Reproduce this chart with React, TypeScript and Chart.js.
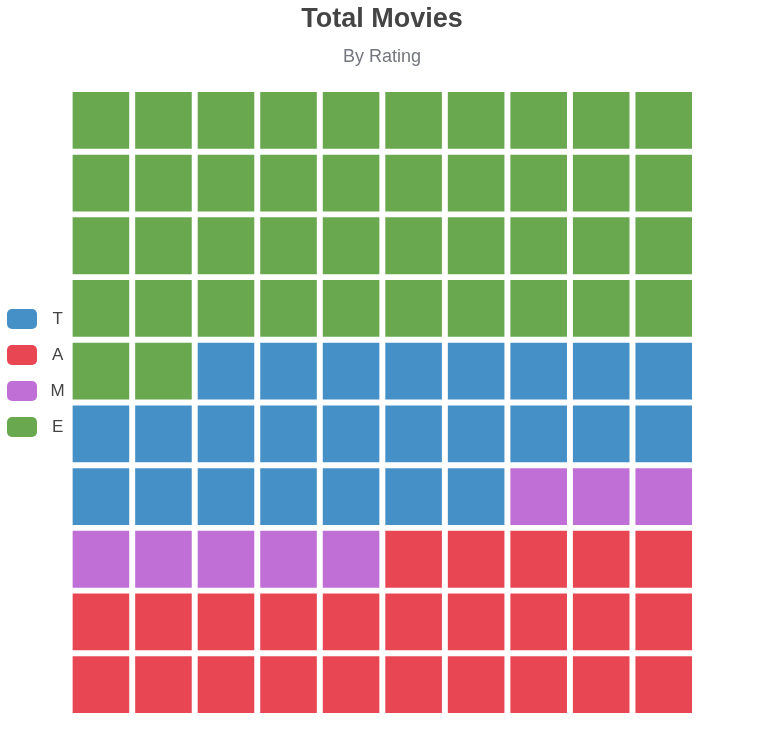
import React, { useEffect, useRef } from 'react';
import { Chart, registerables } from 'chart.js';

Chart.register(...registerables);
Chart.defaults.font.family = '"Liberation Sans", Arial, Helvetica, sans-serif';

// ---- data ----
const ratings = ['T', 'A', 'M', 'E'];
const movieCounts = [25, 25, 8, 42];
const ratingColors = ['#4690c8', '#e84652', '#c06fd6', '#69a84f'];
// order in which the waffle is filled, starting bottom-right and moving left, row by row upward
const fillOrder = ['A', 'M', 'T', 'E'];
const GRID_COLS = 10;
const GRID_ROWS = 10;

type Cell = { x: number; y: [number, number] };

function buildCells(): Record<string, Cell[]> {
  const cells: Record<string, Cell[]> = {};
  ratings.forEach((r) => (cells[r] = []));
  let k = 0;
  for (const r of fillOrder) {
    const count = movieCounts[ratings.indexOf(r)];
    for (let n = 0; n < count; n++) {
      const row = Math.floor(k / GRID_COLS);
      const col = GRID_COLS - 1 - (k % GRID_COLS);
      cells[r].push({ x: col + 0.5, y: [row, row + 1] });
      k++;
    }
  }
  return cells;
}

export default function App() {
  const ref = useRef<HTMLCanvasElement>(null);

  useEffect(() => {
    const cells = buildCells();
    const chart = new Chart(ref.current as HTMLCanvasElement, {
      type: 'bar',
      data: {
        datasets: ratings.map((r, i) => ({
          label: r,
          data: cells[r] as any,
          backgroundColor: ratingColors[i],
          borderColor: '#ffffff',
          borderWidth: 3.3,
          borderSkipped: false,
          grouped: false,
          barPercentage: 1,
          categoryPercentage: 1,
        })),
      },
      options: {
        responsive: false,
        animation: false,
        events: [],
        layout: { padding: { left: -9, right: -9, top: 0, bottom: 0 } },
        scales: {
          x: {
            type: 'linear',
            min: 0,
            max: GRID_COLS,
            offset: false,
            position: 'bottom',
            ticks: { display: false, stepSize: 1 },
            grid: { display: false },
            border: { display: false },
            afterFit: (s: any) => {
              s.height = 30;
            },
          },
          y: {
            type: 'linear',
            min: 0,
            max: GRID_ROWS,
            position: 'right',
            ticks: { display: false, stepSize: 1 },
            grid: { display: false },
            border: { display: false },
            afterFit: (s: any) => {
              s.width = 78;
            },
          },
        },
        plugins: {
          title: {
            display: true,
            text: 'Total Movies',
            color: '#444444',
            font: { size: 27, weight: 'bold' },
            padding: { top: 3.5, bottom: 5.5 },
          },
          subtitle: {
            display: true,
            text: 'By Rating',
            color: '#74777f',
            font: { size: 18, weight: 'normal' },
            padding: { top: 5, bottom: 21 },
          },
          legend: {
            position: 'left',
            labels: {
              boxWidth: 30,
              boxHeight: 20,
              padding: 16,
              color: '#444444',
              font: { size: 17 },
              textAlign: 'center',
              generateLabels: (c: any) =>
                c.data.datasets.map((ds: any, i: number) => ({
                  text: ds.label,
                  fillStyle: ds.backgroundColor,
                  strokeStyle: ds.backgroundColor,
                  lineWidth: 0,
                  borderRadius: 5,
                  datasetIndex: i,
                  hidden: !c.isDatasetVisible(i),
                  fontColor: '#444444',
                })),
            },
          },
          tooltip: { enabled: false },
        },
      } as any,
    });
    return () => chart.destroy();
  }, []);

  return (
    <div style={{ position: 'absolute', left: 0, top: 0, width: 764, height: 746 }}>
      <canvas ref={ref} width={764} height={746} style={{ display: 'block' }} />
    </div>
  );
}
